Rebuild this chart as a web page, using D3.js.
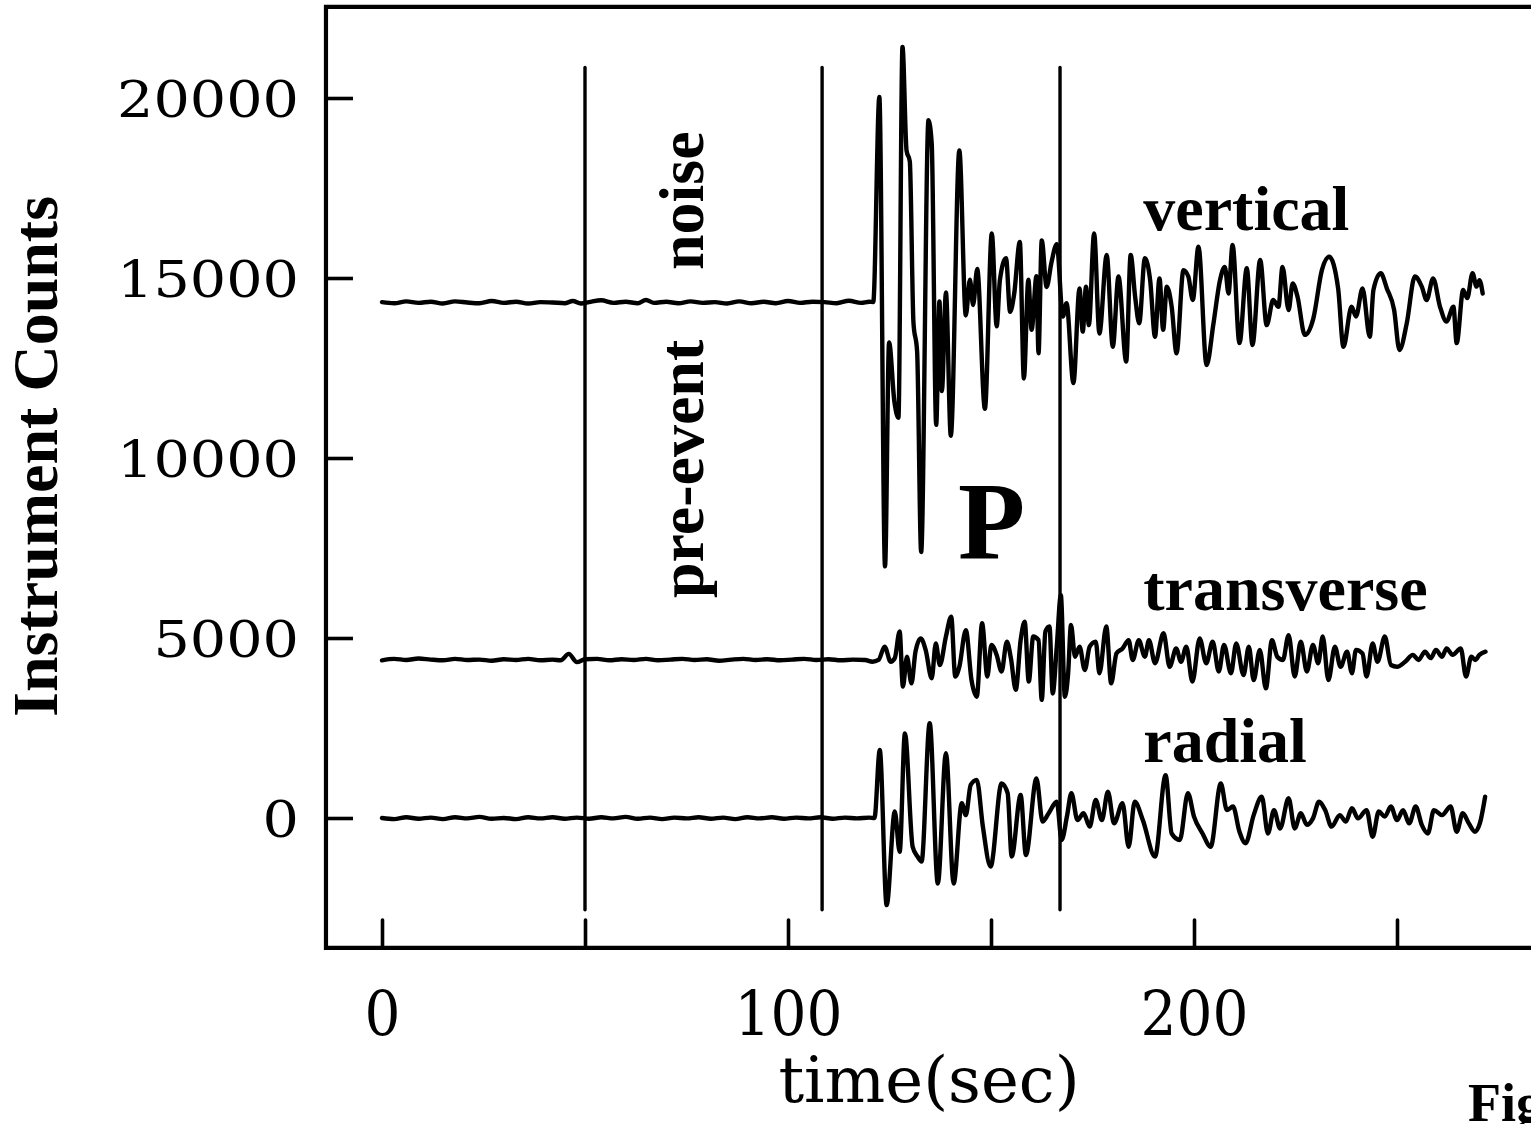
<!DOCTYPE html>
<html>
<head>
<meta charset="utf-8">
<script src="https://cdn.jsdelivr.net/npm/d3@7/dist/d3.min.js"></script>
<style>
  html, body { margin: 0; padding: 0; background: #fff; }
  svg { display: block; }
</style>
</head>
<body>
<svg id="chart" width="1531" height="1124"></svg>
<script>
// ---- data -------------------------------------------------------------
const xTicks = [0, 50, 100, 150, 200, 250];
const xTickLabels = ["0", "", "100", "", "200", ""];
const yTicks = [0, 5000, 10000, 15000, 20000];
const yTickLabels = ["0", "5000", "10000", "15000", "20000"];

// window boundaries (sec): pre-event noise window and P window
const windowTimes = [50, 108.4, 167];

// traces as [time (sec), instrument counts]
const verticalTrace = [
  [0,14330],[3,14300],[6,14350],[9,14310],[12,14340],[15,14290],[18,14350],[21,14320],
  [24,14300],[27,14360],[30,14310],[33,14340],[36,14290],[39,14330],[42,14320],[45,14300],
  [47,14360],[49,14290],[51,14330],[54,14380],[57,14310],[60,14340],[63,14300],[65,14390],
  [67,14310],[70,14340],[73,14300],[76,14350],[79,14310],[82,14330],[85,14290],[88,14350],
  [91,14300],[94,14340],[97,14300],[100,14360],[103,14310],[106,14340],[109,14330],[112,14300],
  [115,14370],[118,14310],[120,14340],
  [121.0,14333],[122.5,20030],[123.9,6990],[124.9,13210],[126.2,11570],[127.2,11120],
  [128.2,21420],[129.2,18540],[130.0,18240],[130.9,13760],[131.8,12960],[132.8,7390],
  [134.6,19380],[135.4,18730],[136.5,10920],[137.3,14350],[137.9,11860],[138.9,14600],
  [140.1,10620],[142.2,18540],[143.8,13960],[144.8,14950],[145.6,14250],[146.6,15250],
  [148.5,11370],[150.2,16240],[151.4,13660],[152.2,14950],[153.7,15550],[154.7,14060],
  [155.7,14550],[157.1,16000],[158.1,12210],[159.2,14950],[160.0,13560],[161.2,15050],
  [161.7,12910],[162.5,16040],[163.7,14750],[164.9,15440],[166.2,15940],[167.7,13930],
  [168.6,14300],[170.3,12080],[171.8,14710],[172.6,13510],[173.4,14760],[174.1,13690],
  [175.4,16240],[176.7,13460],[178.5,15640],[180.0,13090],[181.4,15040],[183.3,12680],
  [184.4,15640],[185.5,14480],[186.5,13740],[187.9,15550],[189.2,14940],[190.4,13370],
  [191.5,14990],[192.4,13560],[193.3,14760],[194.5,14200],[195.7,12910],[197.4,15220],
  [198.6,15040],[199.7,14390],[201.1,15870],[203.1,12580],[204.8,13740],[206.4,14940],
  [207.6,15310],[208.5,14570],[209.5,15920],[211.2,13190],[213.0,15270],[214.4,13140],
  [216.3,15500],[217.9,13690],[219.5,14390],[220.8,14200],[221.8,15310],[223.3,14110],
  [224.3,14850],[225.5,14480],[227.3,13420],[229.4,13880],[231.5,15220],[233.3,15590],
  [235.5,14710],[236.8,13090],[238.8,14200],[239.9,13930],[241.5,14710],[243.3,13370],
  [244.2,14670],[246.0,15130],[247.5,14710],[249.3,14110],[250.6,13000],[252.4,13740],
  [254.4,15040],[256.1,14760],[257.3,14390],[258.9,14990],[260.6,14200],[262.2,13790],
  [263.9,14200],[264.7,13190],[266.3,14670],[267.3,14440],[268.6,15130],[269.6,14760],
  [270.3,14940],[271.1,14570]
];

const transverseTrace = [
  [0,4380],[3,4420],[6,4390],[9,4430],[12,4400],[15,4380],[18,4420],[21,4390],[24,4400],
  [27,4370],[30,4410],[33,4390],[36,4420],[39,4380],[42,4400],[44,4380],[46,4560],[48,4330],
  [50,4410],[53,4420],[56,4380],[59,4410],[62,4390],[65,4420],[68,4380],[71,4400],[74,4420],
  [77,4390],[80,4410],[83,4370],[86,4400],[89,4420],[92,4390],[95,4410],[98,4380],[101,4400],
  [104,4420],[107,4390],[110,4410],[113,4380],[116,4400],[119,4390],[120.8,4340],
  [122.3,4390],[123.8,4760],[125.3,4340],[126.3,4440],[127.5,5180],[128.3,3650],[129.3,4480],
  [130.4,3740],[131.4,4620],[132.7,4990],[133.9,4670],[135.4,3880],[136.4,4850],[137.4,4250],
  [138.9,5040],[140.2,5590],[141.2,3930],[142.2,4200],[143.8,5220],[145.2,3830],[146.5,3370],
  [147.8,5410],[149.1,3930],[150.1,4810],[151.4,4530],[152.6,4070],[153.9,4900],[154.9,4440],
  [156.1,3560],[157.3,4940],[158.3,5450],[159.3,3790],[160.4,5040],[161.7,4940],[162.5,3280],
  [163.4,5180],[164.4,5320],[165.2,3460],[166.2,4760],[167.2,6190],[168.2,3370],[169.0,4020],
  [169.7,5360],[170.7,4480],[171.8,4760],[173.1,4110],[174.3,4760],[175.8,4900],[176.7,4020],
  [178.4,5320],[179.6,3740],[180.9,4570],[182.4,4710],[183.9,4940],[184.9,4390],[186.4,4940],
  [187.9,4480],[188.9,4940],[190.4,4300],[192.5,5130],[194.0,4200],[195.6,4710],[196.8,4340],
  [198.1,4760],[199.6,3790],[201.4,4990],[203.0,4300],[204.6,4900],[206.1,4070],[207.4,4810],
  [209.1,4020],[210.4,4850],[212.2,3970],[213.5,4760],[214.7,3830],[216.2,4670],[217.7,3600],
  [219.2,4940],[220.5,4480],[221.9,4390],[223.3,5080],[224.8,3930],[226.3,4900],[227.8,4070],
  [229.3,4810],[230.6,4300],[231.7,5040],[233.1,3830],[234.7,4760],[236.1,4200],[237.7,4620],
  [238.9,4020],[239.9,4670],[241.5,4570],[242.5,3930],[244.0,4850],[245.2,4340],[247.0,5040],
  [248.5,4250],[250.0,4200],[252.0,4340],[253.9,4530],[255.3,4390],[256.9,4620],[258.3,4440],
  [259.6,4670],[261.1,4480],[262.2,4710],[263.7,4530],[265.7,4710],[267.0,3930],[268.3,4480],
  [269.3,4390],[270.3,4530],[271.8,4620]
];

const radialTrace = [
  [0,0],[3,-30],[6,20],[9,-20],[12,10],[15,-30],[18,20],[21,-10],[24,30],[27,-20],[30,0],
  [33,-30],[36,20],[39,-10],[42,20],[45,-20],[48,10],[51,-20],[54,20],[57,-10],[60,30],
  [63,-20],[66,10],[69,-30],[72,10],[75,-10],[78,20],[81,-20],[84,10],[87,-30],[90,20],
  [93,-10],[96,20],[99,-20],[102,10],[105,-10],[108,20],[111,-20],[114,10],[117,-10],[120,10],
  [121.3,0],[122.6,1890],[124.3,-2420],[126.3,180],[127.5,-940],[128.8,2350],[130.7,-800],
  [131.9,-1070],[132.9,-1210],[134.9,2630],[136.9,-1820],[138.9,1800],[140.8,-1820],
  [142.8,410],[143.8,80],[145.0,920],[146.5,1060],[148.0,-240],[149.9,-1350],[152.6,960],
  [154.1,690],[155.1,-1070],[157.3,640],[158.6,-1030],[161.2,1100],[162.7,-100],[164.2,130],
  [166.2,450],[167.4,-610],[168.7,40],[169.8,690],[171.3,-60],[172.8,130],[174.3,-240],
  [175.8,500],[177.3,-60],[178.8,730],[180.3,-150],[182.4,410],[183.9,-800],[185.4,450],
  [187.4,-60],[190.4,-1070],[193.0,1190],[194.5,-430],[196.5,-610],[198.5,690],[200.0,40],
  [202.1,-430],[204.1,-800],[206.6,960],[208.1,220],[209.6,320],[211.2,-380],[212.7,-700],
  [214.7,80],[216.7,590],[218.2,-430],[219.7,220],[221.2,-290],[223.3,550],[224.8,-290],
  [226.3,130],[227.8,-190],[229.3,-10],[230.8,450],[232.3,220],[233.9,-240],[235.9,80],
  [237.4,-100],[238.9,270],[240.4,-10],[242.5,220],[244.0,-520],[245.5,180],[247.0,40],
  [248.5,320],[250.0,-60],[251.5,220],[253.0,-150],[254.6,320],[256.1,-190],[257.6,-430],
  [259.1,220],[261.1,80],[263.2,320],[264.7,-380],[266.2,130],[267.7,-150],[269.2,-380],
  [270.4,-150],[271.7,590]
];

// ---- scales -----------------------------------------------------------
const W = 1531, H = 1124;
const x = d3.scaleLinear().domain([0, 200]).range([382, 1194]);
const y = d3.scaleLinear().domain([0, 20000]).range([818, 98]);

// plot frame extent in data units
const frameT = [-13.8, 290];
const frameV = [-3610, 22530];

const svg = d3.select("#chart");
const serifBold = "'Liberation Serif', 'Times New Roman', serif";
const tickFont = "'DejaVu Serif', serif";

// ---- frame ------------------------------------------------------------
svg.append("path")
  .attr("fill", "none").attr("stroke", "#000").attr("stroke-width", 4.2)
  .attr("stroke-linecap", "square")
  .attr("d", `M${x(frameT[1])},${y(frameV[1])}H${x(frameT[0])}V${y(frameV[0])}H${x(frameT[1])}`);

// ---- axes -------------------------------------------------------------
const xAxis = d3.axisBottom(x)
  .tickValues(xTicks)
  .tickFormat((d, i) => xTickLabels[i])
  .tickSizeInner(-28).tickSizeOuter(0).tickPadding(42);
const gx = svg.append("g")
  .attr("transform", `translate(0,${y(frameV[0])})`)
  .call(xAxis);
gx.select(".domain").remove();
gx.selectAll(".tick line").attr("stroke", "#000").attr("stroke-width", 3.6)
  .attr("stroke-linecap", "round");
gx.selectAll(".tick text")
  .attr("font-family", tickFont).attr("font-size", 62).attr("fill", "#000")
  .attr("dy", "0.72em")
  .attr("textLength", function () { return this.textContent.length * 36; })
  .attr("lengthAdjust", "spacingAndGlyphs");

const yAxis = d3.axisLeft(y)
  .tickValues(yTicks)
  .tickFormat((d, i) => yTickLabels[i])
  .tickSizeInner(-27).tickSizeOuter(0).tickPadding(27);
const gy = svg.append("g")
  .attr("transform", `translate(${x(frameT[0])},0)`)
  .call(yAxis);
gy.select(".domain").remove();
gy.selectAll(".tick line").attr("stroke", "#000").attr("stroke-width", 3.6);
gy.selectAll(".tick text")
  .attr("font-family", tickFont).attr("font-size", 51).attr("fill", "#000")
  .attr("dy", "0.37em")
  .attr("textLength", function () { return this.textContent.length * 36.4; })
  .attr("lengthAdjust", "spacingAndGlyphs");

// ---- window markers ---------------------------------------------------
svg.append("g").selectAll("line")
  .data(windowTimes)
  .join("line")
  .attr("x1", d => x(d)).attr("x2", d => x(d))
  .attr("y1", y(20850)).attr("y2", y(-2550))
  .attr("stroke", "#000").attr("stroke-width", 3.4).attr("stroke-linecap", "round");

// ---- traces -----------------------------------------------------------
const line = d3.line()
  .x(d => x(d[0])).y(d => y(d[1]))
  .curve(d3.curveMonotoneX);

svg.append("g")
  .attr("fill", "none").attr("stroke", "#000").attr("stroke-width", 4.4)
  .attr("stroke-linejoin", "round").attr("stroke-linecap", "round")
  .selectAll("path")
  .data([verticalTrace, transverseTrace, radialTrace])
  .join("path")
  .attr("d", line);

// ---- annotations ------------------------------------------------------
const labels = svg.append("g")
  .attr("font-family", serifBold).attr("font-weight", "bold").attr("fill", "#000");

labels.append("text").attr("x", x(187.5)).attr("y", y(16333))
  .attr("font-size", 64).text("vertical");
labels.append("text").attr("x", x(187.5)).attr("y", y(5778))
  .attr("font-size", 64).text("transverse");
labels.append("text").attr("x", x(187.5)).attr("y", y(1556))
  .attr("font-size", 64).text("radial");
labels.append("text").attr("x", x(141.9)).attr("y", y(7222))
  .attr("font-size", 110).text("P");

labels.append("text")
  .attr("transform", `translate(${x(79.1)},${y(6111)}) rotate(-90)`)
  .attr("font-size", 64).text("pre-event");
labels.append("text")
  .attr("transform", `translate(${x(79.1)},${y(15222)}) rotate(-90)`)
  .attr("font-size", 64).text("noise");

// axis titles
labels.append("text")
  .attr("transform", `translate(57,${(y(frameV[0]) + y(frameV[1])) / 2 - 21}) rotate(-90)`)
  .attr("text-anchor", "middle").attr("font-size", 64).text("Instrument Counts");

svg.append("text")
  .attr("x", 929).attr("y", 1102)
  .attr("text-anchor", "middle")
  .attr("font-family", tickFont).attr("font-size", 64).attr("fill", "#000")
  .text("time(sec)");

labels.append("text").attr("x", 1468).attr("y", 1121)
  .attr("font-size", 54).text("Fig");
</script>
</body>
</html>
